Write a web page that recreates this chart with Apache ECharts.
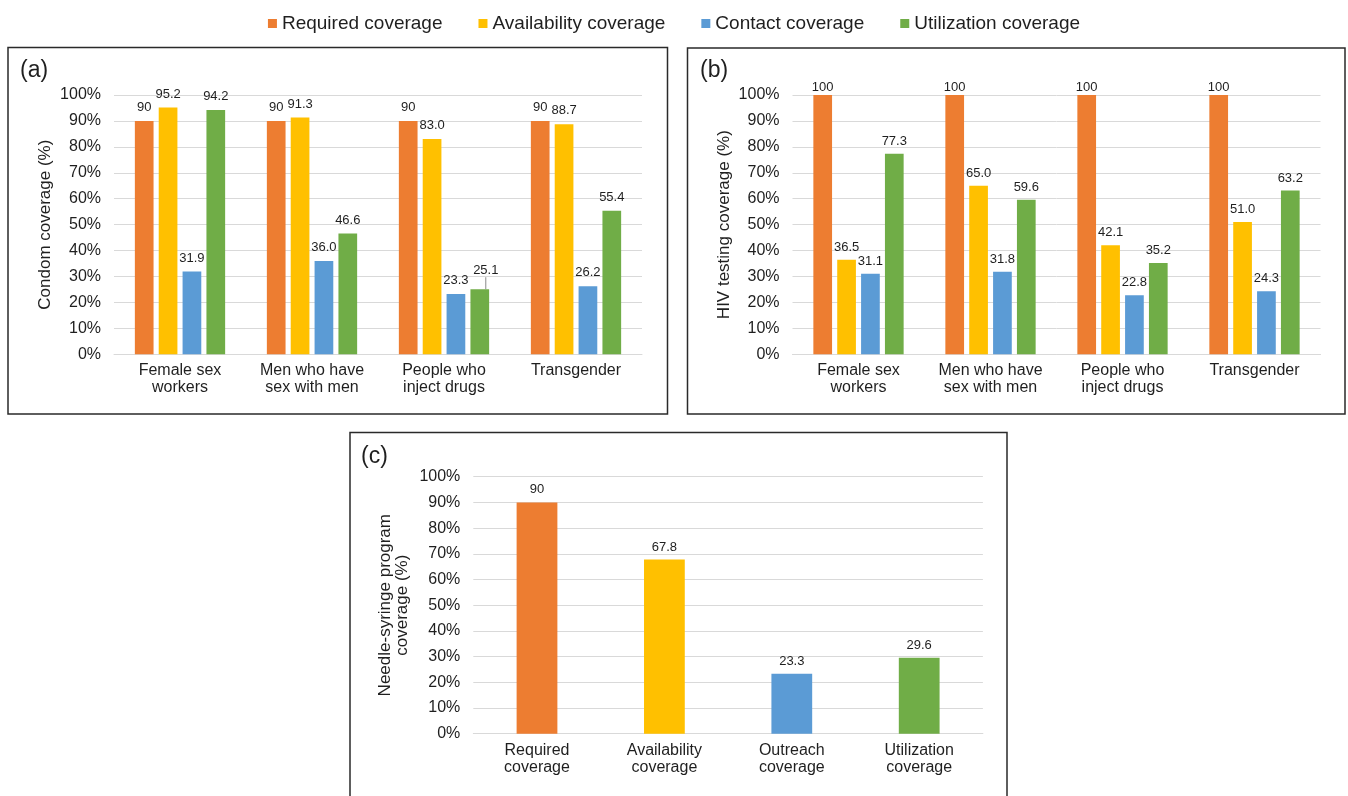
<!DOCTYPE html>
<html>
<head>
<meta charset="utf-8">
<script src="https://cdn.jsdelivr.net/npm/echarts@6/dist/echarts.min.js"></script>
<style>
html,body{margin:0;padding:0;background:#fff;}
#chart{width:1348px;height:796px;}
</style>
</head>
<body>
<div id="chart"></div>
<script>
// ---- Data ----
const seriesNames = ['Required coverage', 'Availability coverage', 'Contact coverage', 'Utilization coverage'];
const groupCategories = ['Female sex\nworkers', 'Men who have\nsex with men', 'People who\ninject drugs', 'Transgender'];

const condomRequired = [90, 90, 90, 90];
const condomAvailability = [95.2, 91.3, 83.0, 88.7];
const condomContact = [31.9, 36.0, 23.3, 26.2];
const condomUtilization = [94.2, 46.6, 25.1, 55.4];

const hivRequired = [100, 100, 100, 100];
const hivAvailability = [36.5, 65.0, 42.1, 51.0];
const hivContact = [31.1, 31.8, 22.8, 24.3];
const hivUtilization = [77.3, 59.6, 35.2, 63.2];

const nspCategories = ['Required\ncoverage', 'Availability\ncoverage', 'Outreach\ncoverage', 'Utilization\ncoverage'];
const nspValues = [90, 67.8, 23.3, 29.6];

const yTicks = [0, 10, 20, 30, 40, 50, 60, 70, 80, 90, 100];

// ---- Styles ----
const colors = ['#ED7D31', '#FFC000', '#5B9BD5', '#70AD47'];
const FONT = '"Liberation Sans", Arial, Helvetica, sans-serif';
const TXT = '#1f1f1f';
const GRID_LINE = '#d9d9d9';

function fmtInt(p) { return String(Math.round(p.value)); }
function fmt1(p) { return Number(p.value).toFixed(1); }

function yAxis(gridIndex, name, nameGap) {
  return {
    type: 'value', gridIndex, min: yTicks[0], max: yTicks[yTicks.length - 1], interval: 10,
    name, nameLocation: 'middle', nameRotate: 90, nameGap,
    nameTextStyle: { fontSize: 17, color: TXT, fontFamily: FONT, lineHeight: 17 },
    axisLabel: { formatter: '{value}%', fontSize: 16, color: TXT, fontFamily: FONT, margin: 13 },
    axisLine: { show: false }, axisTick: { show: false },
    splitLine: { lineStyle: { color: GRID_LINE, width: 1 } }
  };
}
function xAxis(gridIndex, data) {
  return {
    type: 'category', gridIndex, data,
    axisLabel: { interval: 0, fontSize: 16, lineHeight: 17, color: TXT, fontFamily: FONT, margin: 8 },
    axisTick: { show: false },
    axisLine: { lineStyle: { color: GRID_LINE, width: 1 } }
  };
}
function barSeries(name, idx, data, axisIndex, formatter, distance, extra) {
  return Object.assign({
    type: 'bar', name, data, xAxisIndex: axisIndex, yAxisIndex: axisIndex,
    itemStyle: { color: colors[idx] },
    barCategoryGap: '31.6%', barGap: '27.6%',
    label: { show: true, position: 'top', distance, formatter, fontSize: 13, color: TXT, fontFamily: FONT },
    emphasis: { disabled: true }
  }, extra || {});
}

// Utilization (condom) data: the third label is pulled aside with a leader line
const condomUtilizationData = condomUtilization.map((v, i) => (i === 2
  ? { value: v, labelLine: { show: true, length2: 0, lineStyle: { color: '#8a8a8a', width: 1 } } }
  : { value: v }));

const chart = echarts.init(document.getElementById('chart'), null, { renderer: 'canvas' });

const option = {
  animation: false,
  textStyle: { fontFamily: FONT },
  legend: {
    data: seriesNames, top: 9, left: 'center', icon: 'rect', itemWidth: 9, itemHeight: 9, itemGap: 36,
    textStyle: { fontSize: 19, color: TXT, fontFamily: FONT }
  },
  title: [
    { text: '(a)', left: 15, top: 54, textStyle: { fontSize: 23, fontWeight: 'normal', color: TXT, fontFamily: FONT } },
    { text: '(b)', left: 695, top: 54, textStyle: { fontSize: 23, fontWeight: 'normal', color: TXT, fontFamily: FONT } },
    { text: '(c)', left: 356, top: 440, textStyle: { fontSize: 23, fontWeight: 'normal', color: TXT, fontFamily: FONT } }
  ],
  graphic: [
    { type: 'rect', shape: { x: 8, y: 47.5, width: 659.5, height: 366.5 }, style: { fill: 'none', stroke: '#2a2a2a', lineWidth: 1.5 } },
    { type: 'rect', shape: { x: 687.5, y: 48, width: 657.5, height: 366 }, style: { fill: 'none', stroke: '#2a2a2a', lineWidth: 1.5 } },
    { type: 'rect', shape: { x: 350, y: 432.5, width: 657, height: 372 }, style: { fill: 'none', stroke: '#2a2a2a', lineWidth: 1.5 } }
  ],
  grid: [
    { left: 114, top: 95, width: 528, height: 259.3 },
    { left: 792.5, top: 95, width: 528, height: 259.3 },
    { left: 473.3, top: 476.7, width: 509.6, height: 257 }
  ],
  xAxis: [xAxis(0, groupCategories), xAxis(1, groupCategories), xAxis(2, nspCategories)],
  yAxis: [yAxis(0, 'Condom coverage (%)', 60), yAxis(1, 'HIV testing coverage (%)', 60), yAxis(2, 'Needle-syringe program\ncoverage (%)', 62)],
  series: [
    barSeries(seriesNames[0], 0, condomRequired, 0, fmtInt, 7),
    barSeries(seriesNames[1], 1, condomAvailability, 0, fmt1, 7),
    barSeries(seriesNames[2], 2, condomContact, 0, fmt1, 7),
    barSeries(seriesNames[3], 3, condomUtilizationData, 0, fmt1, 7, {
      labelLayout: function (p) { return p.dataIndex === 2 ? { dx: 6, dy: -5 } : null; }
    }),
    barSeries(seriesNames[0], 0, hivRequired, 1, fmtInt, 1),
    barSeries(seriesNames[1], 1, hivAvailability, 1, fmt1, 6),
    barSeries(seriesNames[2], 2, hivContact, 1, fmt1, 6),
    barSeries(seriesNames[3], 3, hivUtilization, 1, fmt1, 6),
    {
      type: 'bar', name: 'Needle-syringe program', xAxisIndex: 2, yAxisIndex: 2,
      data: nspValues.map((v, i) => ({ value: v, itemStyle: { color: colors[i] } })),
      barCategoryGap: '68%',
      label: { show: true, position: 'top', distance: 6, fontSize: 13, color: TXT, fontFamily: FONT,
        formatter: p => (p.dataIndex === 0 ? fmtInt(p) : fmt1(p)) },
      emphasis: { disabled: true }
    }
  ]
};
chart.setOption(option);
</script>
</body>
</html>
